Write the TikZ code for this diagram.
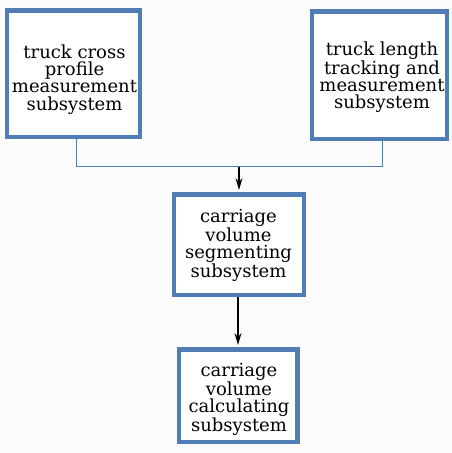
\documentclass[tikz,border=0pt]{standalone}
\usepackage{fontspec}
\setmainfont{DejaVu Serif}
\usetikzlibrary{arrows.meta}
\definecolor{boxblue}{RGB}{80,125,180}
\definecolor{paper}{RGB}{251,251,251}
\tikzset{
  box/.style={draw=boxblue, line width=4.5pt, fill=white, inner sep=0pt},
  caption/.style={align=center, inner sep=0pt,
    font=\fontsize{18}{17.2}\selectfont},
  feed/.style={draw=boxblue, line width=1pt},
  flow/.style={draw=black, line width=1.2pt,
    -{Stealth[length=12pt,width=7pt,inset=4pt]}, shorten >=2.25pt}
}
\begin{document}
\begin{tikzpicture}[x=1pt,y=-1pt]
  % page
  \fill[paper] (0,0) rectangle (452,453);
  \useasboundingbox (0,0) rectangle (452,453);

  % subsystem frames
  \node[box, minimum width=133pt, minimum height=126.5pt] (cross) at (73.5,73.75) {};
  \node[box, minimum width=135pt, minimum height=127.5pt] (length) at (379.5,75.25) {};
  \node[box, minimum width=130pt, minimum height=100.5pt] (segment) at (239,244.75) {};
  \node[box, minimum width=118.5pt, minimum height=92.5pt] (calc) at (238.25,395.75) {};

  % subsystem names
  \node[caption] (cross-name) at (74.5,79.5)
    {truck cross\\profile\\measurement\\subsystem};
  \node[caption] (length-name) at (382,77.5)
    {truck length\\tracking and\\measurement\\subsystem};
  \node[caption] (segment-name) at (238.5,245.5)
    {carriage\\volume\\segmenting\\subsystem};
  \node[caption] (calc-name) at (239,399.5)
    {carriage\\volume\\calculating\\subsystem};

  % junction of the two measurement outputs
  \coordinate (jl) at (76,166.5);
  \coordinate (jr) at (382.5,166.5);
  \coordinate (jm) at (239,166.5);
  \coordinate (mid) at (238,300);

  \draw[feed] (cross.south -| jl) -- (jl) -- (jr) -- (length.south -| jr);
  \draw[flow] (jm) -- (segment.north -| jm);
  \draw[flow] (segment.south -| mid) -- (calc.north -| mid);
\end{tikzpicture}
\end{document}
